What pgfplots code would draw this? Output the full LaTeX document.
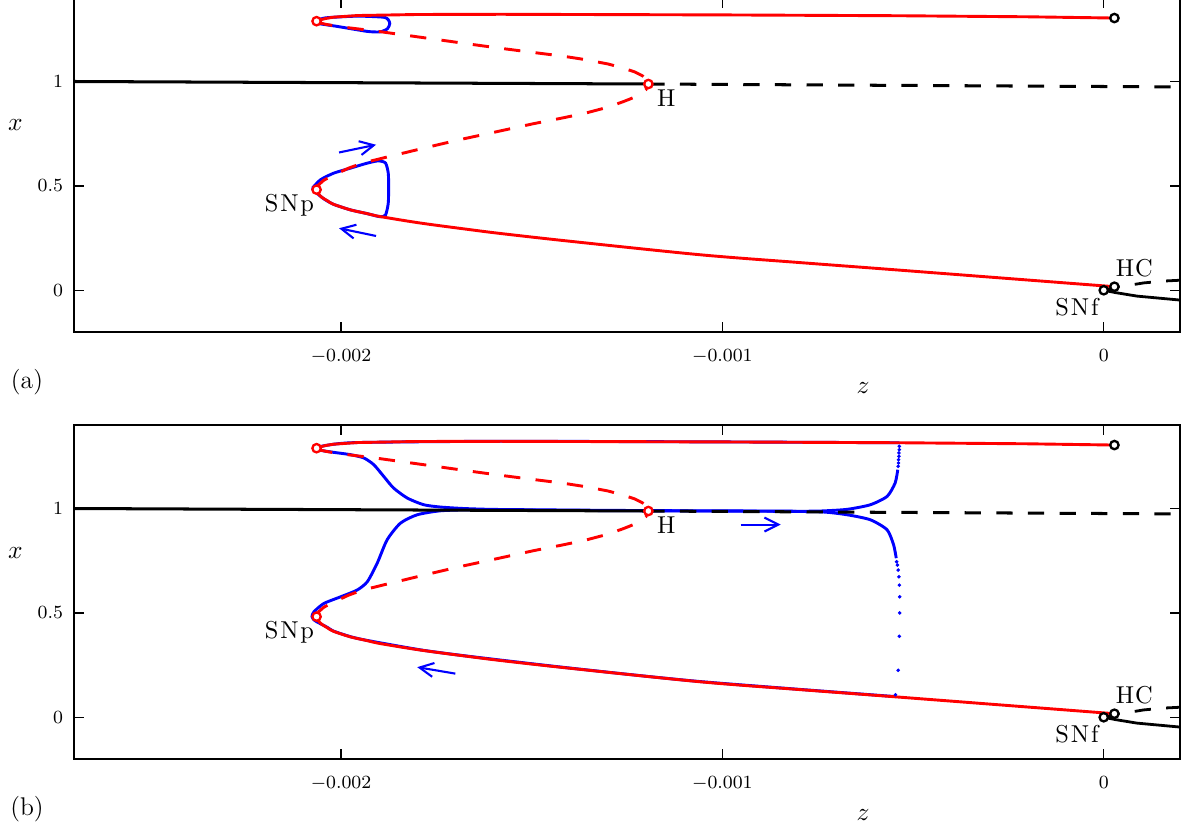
\documentclass[border=0pt]{standalone}
\usepackage{pgfplots}
\usepackage{pgfplotstable}
\pgfplotsset{compat=1.18}
\usetikzlibrary{arrows.meta}

\pgfplotstableread{
z x
-2.064 1.289
-2.055 1.295
-2.040 1.302
-2.020 1.308
-1.957 1.316
-1.800 1.321
-1.580 1.322
-1.000 1.319
-0.534 1.315
-0.200 1.310
0.028 1.304
}\redUp

\pgfplotstableread{
z x
-2.064 1.288
-2.054 1.280
-2.040 1.274
-2.001 1.262
-1.910 1.242
-1.831 1.222
-1.744 1.200
-1.666 1.180
-1.585 1.160
-1.500 1.140
-1.420 1.122
-1.360 1.105
-1.300 1.084
-1.259 1.064
-1.230 1.046
-1.210 1.028
-1.200 1.012
-1.194 0.988
}\redDashUp

\pgfplotstableread{
z x
-2.064 0.482
-2.058 0.506
-2.045 0.527
-2.020 0.551
-1.980 0.585
-1.942 0.610
-1.857 0.648
-1.771 0.686
-1.692 0.720
-1.603 0.755
-1.495 0.798
-1.420 0.825
-1.360 0.848
-1.300 0.877
-1.259 0.904
-1.230 0.925
-1.210 0.945
-1.200 0.962
-1.194 0.988
}\redDashLo

\pgfplotstableread{
z x
-2.064 0.482
-2.060 0.463
-2.050 0.445
-2.035 0.428
-2.020 0.412
-1.975 0.385
-1.931 0.367
-1.897 0.353
-1.792 0.322
-1.669 0.292
-1.582 0.272
-1.406 0.236
-1.058 0.170
-0.800 0.133
-0.540 0.097
0.028 0.017
}\redLo

\pgfplotstableread{
z x
-2.070 1.284
-2.064 1.291
-2.040 1.305
-1.957 1.313
-1.889 1.308
-1.876 1.296
-1.872 1.277
-1.878 1.253
-1.897 1.238
-1.931 1.240
-2.010 1.264
-2.054 1.276
-2.070 1.284
}\blueAone

\pgfplotstableread{
z x
-2.075 0.489
-2.054 0.529
-2.019 0.561
-1.975 0.585
-1.931 0.609
-1.901 0.620
-1.883 0.609
-1.876 0.561
-1.875 0.497
-1.876 0.417
-1.883 0.361
-1.897 0.352
-1.931 0.367
-1.975 0.385
-2.020 0.412
-2.045 0.438
-2.060 0.460
-2.072 0.478
-2.075 0.489
}\blueAtwo

\pgfplotstableread{
z x
-0.536 1.315
-1.000 1.319
-1.580 1.322
-1.957 1.316
-2.040 1.302
-2.064 1.289
-2.054 1.279
-2.019 1.269
-1.975 1.258
-1.940 1.242
-1.914 1.210
-1.888 1.154
-1.862 1.098
-1.826 1.050
-1.783 1.018
-1.739 1.007
-1.678 1.000
-1.608 0.996
-1.500 0.994
-1.194 0.990
-0.900 0.988
-0.800 0.987
-0.743 0.988
-0.673 0.996
-0.612 1.018
-0.568 1.058
-0.547 1.122
-0.540 1.186
}\blueBup

\pgfplotstableread{
z x
-0.544 0.762
-0.551 0.826
-0.568 0.898
-0.612 0.946
-0.673 0.970
-0.743 0.984
-0.900 0.987
-1.194 0.989
-1.500 0.992
-1.652 0.994
-1.739 0.989
-1.800 0.970
-1.844 0.930
-1.879 0.850
-1.905 0.738
-1.931 0.649
-1.958 0.609
-2.001 0.577
-2.045 0.545
-2.071 0.505
-2.076 0.482
-2.070 0.465
-2.058 0.452
-2.035 0.430
-2.020 0.413
-1.975 0.386
-1.931 0.368
-1.792 0.323
-1.669 0.293
-1.406 0.237
-1.058 0.171
-0.546 0.099
}\blueBlo

\pgfplotstableread{
z x
-0.536 1.298
-0.536 1.282
-0.537 1.266
-0.537 1.250
-0.538 1.234
-0.538 1.218
-0.539 1.202
-0.543 0.745
-0.541 0.729
-0.539 0.705
-0.537 0.673
-0.536 0.633
-0.535 0.577
-0.535 0.500
-0.536 0.388
-0.539 0.225
-0.546 0.108
}\blueDots

\pgfplotsset{
  myax/.style={
    scale only axis, width=475.58pt, height=143.62pt,
    anchor=south west,
    xmin=-2.7, xmax=0.2, ymin=-0.2, ymax=1.4,
    xtick={-2,-1,0}, xticklabels={$-0.002$,$-0.001$,$0$},
    ytick={0,0.5,1}, yticklabels={$0$,$0.5$,$1$},
    tick label style={font=\fontsize{8.3}{9}\selectfont},
    xticklabel style={yshift=-3.8pt},
    yticklabel style={xshift=-1.2pt},
    major tick length=4.3pt,
    tick style={black, line width=0.55pt},
    axis line style={line width=0.6pt},
  },
  rline/.style={red, line width=1.25pt},
  bline/.style={black, line width=1.3pt},
  uline/.style={blue, line width=1.25pt},
  dsh/.style={dash pattern=on 7pt off 6.6pt},
  rmark/.style={only marks, mark=*, mark size=1.8pt, mark options={fill=white, draw=red, line width=1pt}},
  kmark/.style={only marks, mark=*, mark size=1.8pt, mark options={fill=white, draw=black, line width=1pt}},
  arr/.style={blue, line width=0.9pt, -{Straight Barb[length=6pt,width=6pt]}},
}
\tikzset{lab/.style={font=\fontsize{10.5}{12}\selectfont, anchor=base, inner sep=0pt}}

\newcommand{\common}{%
  \addplot[bline] coordinates {(-2.7,1.000) (-1.194,0.988)};
  \addplot[bline,dsh] coordinates {(-1.194,0.988) (0.2,0.974)};
  \addplot[black, line width=1.2pt] coordinates {(0,0) (0.03,-0.011) (0.087,-0.028) (0.2,-0.047)};
  \addplot[black, line width=1.2pt, dsh] coordinates {(0,0) (0.028,0.014) (0.074,0.026) (0.104,0.035) (0.157,0.044) (0.2,0.048)};
  \addplot[rline] table[x=z,y=x] {\redUp};
  \addplot[rline, smooth, tension=0.5] table[x=z,y=x] {\redLo};
  \addplot[rline,dsh] table[x=z,y=x] {\redDashUp};
  \addplot[rline,dsh] table[x=z,y=x] {\redDashLo};
  \addplot[rmark] coordinates {(-2.064,1.289) (-2.064,0.482) (-1.194,0.988)};
  \addplot[kmark] coordinates {(0.028,1.304) (0.028,0.017) (0,0)};
  \node[lab] at (axis cs:-2.135,0.376) {S\kern0.8pt N\kern0.8pt p};
  \node[lab] at (axis cs:-1.147,0.879) {H};
  \node[lab] at (axis cs:0.080,0.065) {H\kern0.4pt C};
  \node[lab] at (axis cs:-0.070,-0.119) {S\kern0.8pt N\kern0.8pt f};
}

\begin{document}
\begin{tikzpicture}
\begin{axis}[myax, at={(31.82pt,214.14pt)}]
  \addplot[uline, smooth, tension=0.4] table[x=z,y=x] {\blueAone};
  \addplot[uline, smooth, tension=0.4] table[x=z,y=x] {\blueAtwo};
  \common
  \addplot[arr] coordinates {(-2.005,0.660) (-1.908,0.697)};
  \addplot[arr] coordinates {(-1.908,0.260) (-2.005,0.297)};
\end{axis}
\begin{axis}[myax, at={(31.82pt,30.53pt)}]
  \addplot[uline, smooth, tension=0.4] table[x=z,y=x] {\blueBup};
  \addplot[uline, smooth, tension=0.4] table[x=z,y=x] {\blueBlo};
  \addplot[blue, only marks, mark=*, mark size=0.55pt] table[x=z,y=x] {\blueDots};
  \common
  \addplot[arr] coordinates {(-0.952,0.923) (-0.847,0.923)};
  \addplot[arr] coordinates {(-1.700,0.209) (-1.800,0.240)};
\end{axis}
\node[font=\fontsize{11}{12}\selectfont] at (6.67pt,303.15pt) {$x$};
\node[font=\fontsize{11}{12}\selectfont] at (6.67pt,119.11pt) {$x$};
\node[font=\fontsize{11}{12}\selectfont] at (371.1pt,190.06pt) {$z$};
\node[font=\fontsize{11}{12}\selectfont] at (371.1pt,6.45pt) {$z$};
\node[font=\fontsize{11}{12}\selectfont] at (11.61pt,192.64pt) {(a)};
\node[font=\fontsize{11}{12}\selectfont] at (11.61pt,9.03pt) {(b)};
\pgfresetboundingbox
\useasboundingbox (0,0) rectangle (510.41pt,356.9pt);
\end{tikzpicture}
\end{document}
